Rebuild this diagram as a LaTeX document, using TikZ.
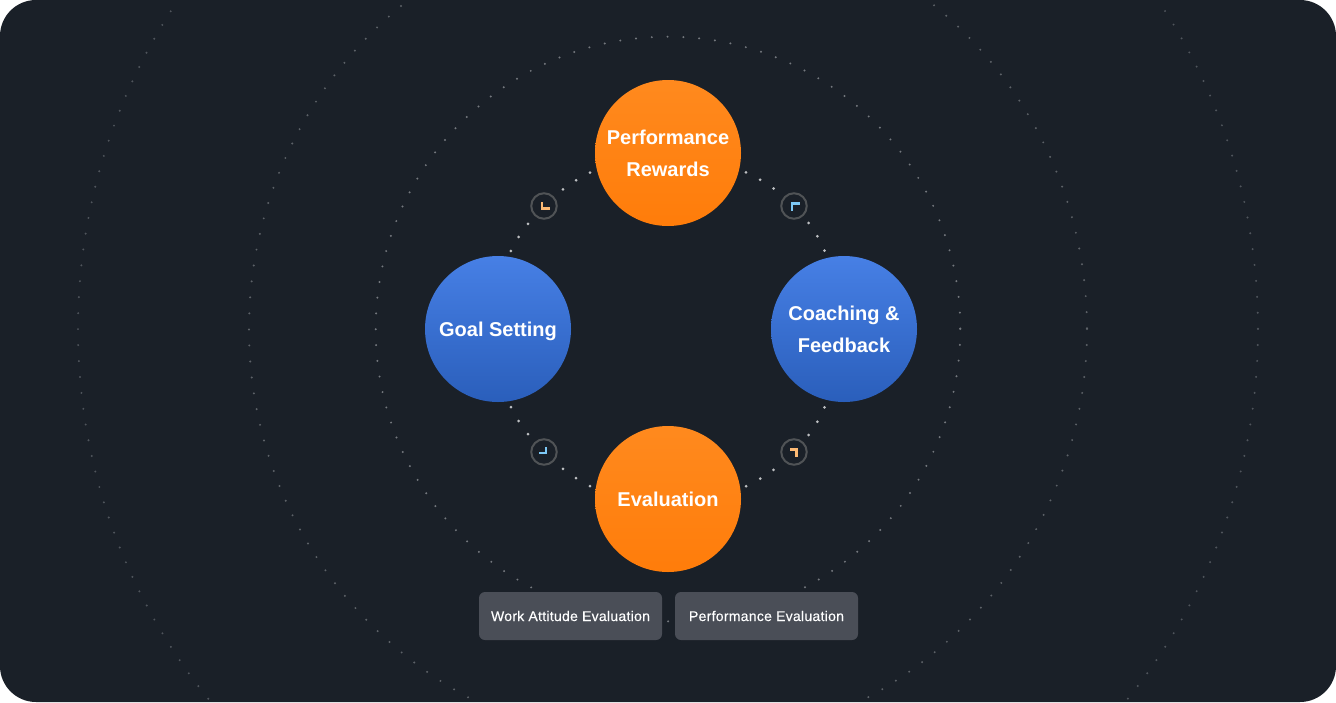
\documentclass[tikz,border=0pt]{standalone}
\usepackage{fontspec}
\setmainfont{Liberation Sans}
\newfontfamily\chipfont[FakeBold=0.25,LetterSpace=2]{Liberation Sans}
\usepackage{xcolor}
\definecolor{cardDark}{HTML}{1A2028}
\definecolor{ringGray}{HTML}{74787E}
\definecolor{linkGray}{HTML}{BDBFC2}
\definecolor{badgeEdge}{HTML}{505356}
\definecolor{chipGray}{HTML}{4A4E57}
\definecolor{orangeTop}{HTML}{FF9028}
\definecolor{orangeBottom}{HTML}{FF7600}
\definecolor{blueTop}{HTML}{5590FA}
\definecolor{blueBottom}{HTML}{1C4EA6}
\definecolor{tickOrange}{HTML}{FDBA74}
\definecolor{tickBlue}{HTML}{7DC8F5}
\usetikzlibrary{positioning}
\pgfdeclareverticalshading{orangefall}{100bp}{color(0bp)=(orangeBottom); color(100bp)=(orangeTop)}
\pgfdeclareverticalshading{bluefall}{100bp}{color(0bp)=(blueBottom); color(100bp)=(blueTop)}
\tikzset{
    % Base style for the four large circles
    stage base/.style={
        circle,
        minimum size=146pt,
        inner sep=0pt,
        outer sep=0pt,
        align=center,
        text=white,
        font=\fontsize{20}{32}\selectfont\bfseries,
    },
    stage orange/.style={stage base, shading=orangefall},
    stage blue/.style={stage base, shading=bluefall},
    % Small round marks on the links
    badge/.style={
        circle,
        minimum size=25.5pt,
        inner sep=0pt,
        outer sep=1pt,
        draw=badgeEdge,
        line width=2pt,
        fill=cardDark,
    },
    % Grey boxes under the bottom circle
    chipbox/.style={
        rectangle,
        rounded corners=6pt,
        minimum width=183pt,
        minimum height=48pt,
        inner sep=0pt,
        outer sep=0pt,
        fill=chipGray,
        text=white,
        font=\fontsize{14}{16}\selectfont\chipfont,
    },
    % Dotted rings in the background
    ringdots/.style={
        line width=2.2pt,
        line cap=round,
    },
    % Dotted links between circles and badges
    linkdots/.style={
        line width=3pt,
        line cap=round,
        draw=linkGray,
        dash pattern=on 0pt off 16pt,
    },
    tickmark/.style={line width=2.2pt},
}
\begin{document}
\begin{tikzpicture}[x=1pt, y=-1pt]
    \useasboundingbox (0,0) rectangle (1336,702);
    \fill [white] (0,0) rectangle (1336,702);
    \fill [cardDark, rounded corners=36pt] (0,0) rectangle (1336,702);

    \coordinate (hub) at (668,329);
    \begin{scope}
        \clip [rounded corners=36pt] (0,0) rectangle (1336,702);
        \draw [ringdots, draw=ringGray, dash pattern=on 0pt off 15.83pt] (hub) circle [radius=292.3];
        \draw [ringdots, draw=ringGray!75!cardDark, dash pattern=on 0pt off 16.05pt] (hub) circle [radius=419];
        \draw [ringdots, draw=ringGray!60!cardDark, dash pattern=on 0pt off 15.98pt] (hub) circle [radius=590];
    \end{scope}

    \node (rewards) [stage orange] at (668,153) {Performance\\Rewards};
    \node (goal) [stage blue, text depth=0pt] at (498,329) {Goal Setting};
    \node (coaching) [stage blue] at (844,329) {Coaching \&\\Feedback};
    \node (evaluation) [stage orange] at (668,499) {Evaluation};

    \node (badgeTL) [badge] at (544,206) {};
    \node (badgeTR) [badge] at (794,206) {};
    \node (badgeBL) [badge] at (544,452) {};
    \node (badgeBR) [badge] at (794,452) {};

    \draw [linkdots, dash phase=8.5pt] (rewards.193) to [bend right=8] (badgeTL.43);
    \draw [linkdots, dash phase=9.6pt] (goal.82) to [bend left=8] (badgeTL.227);
    \draw [linkdots, dash phase=8.5pt] (rewards.347) to [bend left=8] (badgeTR.137);
    \draw [linkdots, dash phase=8.1pt] (coaching.103) to [bend right=8] (badgeTR.313);
    \draw [linkdots, dash phase=9.6pt] (goal.278) to [bend right=8] (badgeBL.133);
    \draw [linkdots, dash phase=9.6pt] (evaluation.172) to [bend left=8] (badgeBL.317);
    \draw [linkdots, dash phase=8.1pt] (coaching.257) to [bend left=8] (badgeBR.47);
    \draw [linkdots, dash phase=9.6pt] (evaluation.8) to [bend right=8] (badgeBR.223);

    \draw [tickmark, tickOrange] (542,202) -- (542,208.5) -- (549.5,208.5);
    \draw [tickmark, tickBlue] (792,210.5) -- (792,203.5) -- (800,203.5);
    \draw [tickmark, tickBlue] (546,447) -- (546,453) -- (539,453);
    \draw [tickmark, tickOrange] (790,449.5) -- (796.5,449.5) -- (796.5,457);

    \node (workchip) [chipbox] at (570.5,616) {Work Attitude Evaluation};
    \node (perfchip) [chipbox, right=13pt of workchip] {Performance Evaluation};
\end{tikzpicture}
\end{document}
